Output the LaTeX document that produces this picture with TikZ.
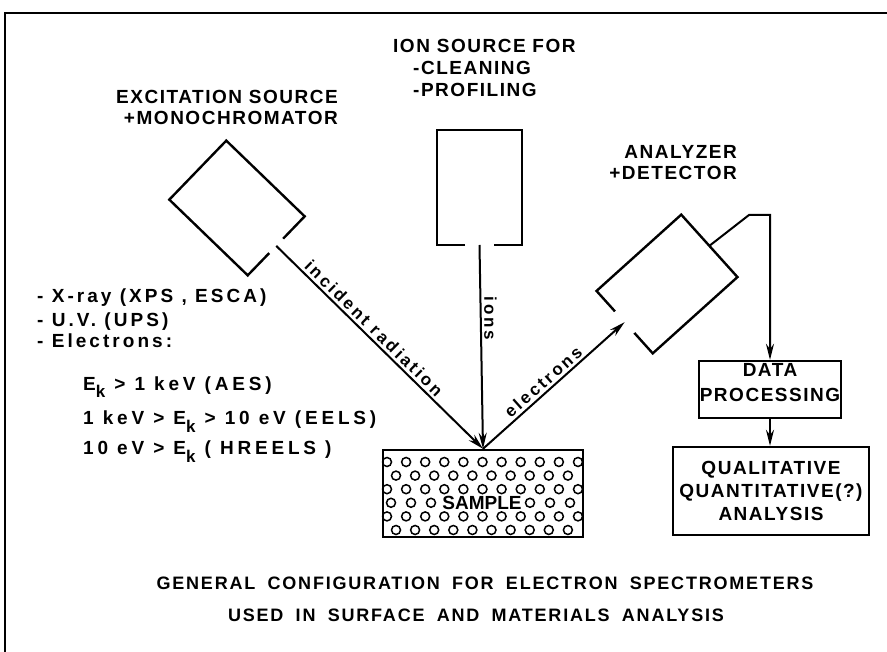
\documentclass[tikz,border=0pt]{standalone}
\usepackage{fontspec}
\setmainfont{Liberation Sans}
\newfontfamily\headfont{Liberation Sans}[LetterSpace=8]
\newfontfamily\listfont{Liberation Sans}[LetterSpace=16]
\newfontfamily\eklistfont{Liberation Sans}[LetterSpace=20]
\newfontfamily\capfont{Liberation Sans}[LetterSpace=10, WordSpace=1.8]
\newfontfamily\arrfont{Liberation Sans}[LetterSpace=16]
\usetikzlibrary{arrows.meta, positioning, calc}

\newcommand{\ksub}{\raisebox{-7pt}{\fontsize{17}{17}\selectfont k}}

\tikzset{
  boxline/.style={line width=2.4pt},
  arrowline/.style={line width=2pt, -{Stealth[length=16pt, width=8pt]}},
  headtext/.style={font={\headfont\bfseries\fontsize{19}{21}\selectfont}, inner sep=0pt},
  listtext/.style={font={\listfont\bfseries\fontsize{19}{21}\selectfont}, inner sep=0pt, anchor=base west},
  ektext/.style={listtext, font={\eklistfont\bfseries\fontsize{19}{21}\selectfont}},
  captext/.style={font={\capfont\bfseries\fontsize{18}{20}\selectfont}, inner sep=0pt, anchor=base},
  arrlbl/.style={font={\arrfont\bfseries\fontsize{17}{17}\selectfont}, inner sep=2.5pt},
  procbox/.style={draw, line width=2.4pt, align=center, inner sep=0pt},
  dot/.style={line width=1.5pt},
}

\begin{document}
\begin{tikzpicture}[x=1pt, y=-1pt]
  \useasboundingbox (0,0) rectangle (887,652);
  % frame
  \draw[line width=2.2pt] (887,13) -- (5,13) -- (5,652);

  % excitation source, open towards the sample
  \begin{scope}[shift={(237,208)}, rotate=-44]
    \draw[boxline] (54.5,10) -- (54.5,41) -- (-54.5,41) -- (-54.5,-41) -- (54.5,-41) -- (54.5,-10);
    \coordinate (exgap) at (54.5,0);
  \end{scope}
  \node[headtext, align=right, anchor=north east] (exlbl) at (338,90) {EXCITATION SOURCE\\+MONOCHROMATOR};

  % ion source
  \begin{scope}[shift={(479.5,187.5)}, rotate=-90]
    \draw[boxline] (57.5,14.5) -- (57.5,42.5) -- (-57.5,42.5) -- (-57.5,-42.5) -- (57.5,-42.5) -- (57.5,-14.5);
    \coordinate (iongap) at (57.5,0);
  \end{scope}
  \node[headtext, anchor=north west] (ionlbl) at (393,39) {ION SOURCE FOR};
  \node[headtext, align=left, anchor=north west] (ionuse) at (413,61) {-CLEANING\\[1pt]-PROFILING};

  % analyzer
  \begin{scope}[shift={(667,284)}, rotate=-138]
    \draw[boxline] (57,14.5) -- (57,42) -- (-57,42) -- (-57,-42) -- (57,-42) -- (57,-14.5);
    \coordinate (angap) at (57,0);
    \coordinate (anout) at (-57,0);
  \end{scope}
  \node[headtext, align=right, anchor=north east] (anlbl) at (737,145) {ANALYZER\\+DETECTOR};

  % sample
  \node[draw, line width=2.4pt, minimum width=200pt, minimum height=87pt, inner sep=0pt] (sample) at (483,493.5) {};
  \begin{scope}
    \clip (sample.south west) rectangle (sample.north east);
    \foreach \y in {462,489.2,516.4}
      \foreach \x in {0,...,10} \draw[dot] (387+19.1*\x,\y) circle (4.5pt);
    \foreach \y in {475.6,530}
      \foreach \x in {0,...,9} \draw[dot] (396+19.1*\x,\y) circle (4.5pt);
    \foreach \x in {391,411,431,530,550,570} \draw[dot] (\x,502.8) circle (4.5pt);
  \end{scope}
  \node[font={\bfseries\fontsize{19}{19}\selectfont}, inner sep=0pt] (samplelbl) at (482,503) {SAMPLE};

  % beams
  \draw[arrowline] (exgap) -- node[arrlbl, sloped, above, pos=0.44] {incident radiation} (sample.north);
  \draw[arrowline] (iongap) -- node[arrlbl, rotate=-90, anchor=south, pos=0.36] {ions} (sample.north);
  \draw[arrowline] (sample.north) -- node[arrlbl, sloped, above, pos=0.47] {electrons} (angap);

  % data handling
  \node[procbox, minimum width=142pt, minimum height=57pt, text height=23.6pt,
        font={\headfont\bfseries\fontsize{19}{25}\selectfont}] (data) at (770,389.5) {DATA\\PROCESSING};
  \node[procbox, minimum width=196pt, minimum height=88pt,
        font={\headfont\bfseries\fontsize{19}{23}\selectfont}] (qual) at (771,491) {QUALITATIVE\\QUANTITATIVE(?)\\ANALYSIS};
  \coordinate (bend) at (749,215);
  \draw[arrowline] (anout) -- (bend) -| (data.north);
  \draw[arrowline] (data.south) -- (data.south |- qual.north);

  % excitation types
  \node[listtext] (xray) at (37,303) {- X-ray (XPS , ESCA)};
  \node[listtext] (uv) at (37,327) {- U.V. (UPS)};
  \node[listtext] (elec) at (37,348) {- Electrons:};
  \node[ektext] (aes) at (83,391) {E\ksub{} > 1 keV (AES)};
  \node[ektext] (eels) at (83,425) {1 keV > E\ksub{} > 10 eV (EELS)};
  \node[ektext] (hreels) at (83,455) {10 eV > E\ksub{} ( HREELS )};

  % caption
  \node[captext] (cap1) at (485,589) {GENERAL CONFIGURATION FOR ELECTRON SPECTROMETERS};
  \node[captext] (cap2) at (476,621) {USED IN SURFACE AND MATERIALS ANALYSIS};
\end{tikzpicture}
\end{document}
